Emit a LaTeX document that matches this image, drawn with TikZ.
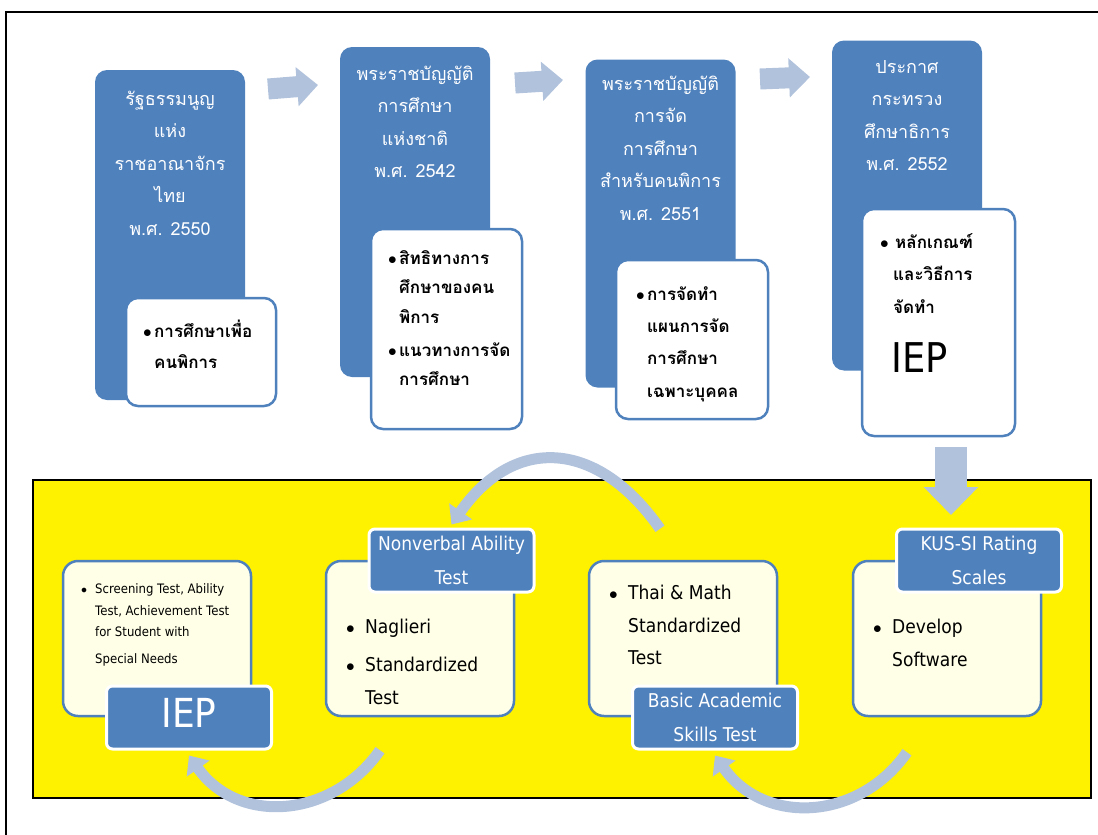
\documentclass[tikz,border=0pt]{standalone}
\usepackage{fontspec}
\setmainfont{DejaVu Sans}[FakeStretch=0.9]
\newfontfamily\thaifont[Script=Thai]{Loma}
\usetikzlibrary{positioning,arrows.meta}

\definecolor{lawblue}{HTML}{4F81BD}
\definecolor{arrowblue}{HTML}{B0C2DC}
\definecolor{cardyellow}{HTML}{FFFFE8}

\newcommand{\itm}[1]{\makebox[#1][l]{$\bullet$}}
\newcommand{\hang}[1]{\hspace*{#1}}
\newcommand{\topstrut}{\rule{0pt}{20pt}}

\begin{document}
\begin{tikzpicture}[x=1pt,y=-1pt,
    law/.style={fill=lawblue,rounded corners=12pt,minimum width=150pt,inner sep=0pt},
    lawtext/.style={anchor=north,inner sep=0pt,align=center,text=white,font=\thaifont\fontsize{18}{32.5}\selectfont},
    note/.style={draw=lawblue,line width=2.5pt,fill=white,rounded corners=12pt,inner sep=0pt},
    notetext/.style={anchor=north west,inner sep=0pt,align=left,font=\thaifont\bfseries\fontsize{17}{31}\selectfont},
    card/.style={draw=lawblue,line width=2.5pt,fill=cardyellow,rounded corners=15pt,minimum width=188pt,minimum height=155pt,inner sep=0pt},
    cardtext/.style={anchor=north west,inner sep=0pt,align=left,font=\fontsize{19}{33}\selectfont},
    tag/.style={draw=white,line width=3pt,fill=lawblue,rounded corners=6pt,minimum width=165pt,minimum height=63pt,inner sep=0pt,align=center,text=white,font=\fontsize{19}{34}\selectfont},
    stagearrow/.style={arrowblue,line width=21pt,-{Triangle[width=38pt,length=21pt]}},
    looparrow/.style={arrowblue,line width=11pt,-{Triangle[width=27pt,length=16pt]}},
  ]
  \useasboundingbox (0,0) rectangle (1098,835);
  \draw[line width=1.2pt] (6,835) -- (6,12) -- (1098,12);

  %laws
  \node[law,minimum height=330pt] (b1) at (170,235) {};
  \node[law,minimum height=330pt] (b2) at (415,212) {};
  \node[law,minimum height=328pt] (b3) at (660.5,223.5) {};
  \node[law,minimum height=330pt] (b4) at (907,205.5) {};
  \node[lawtext] (t1) at (170,85) {\topstrut รัฐธรรมนูญ\\แห่ง\\ราชอาณาจักร\\ไทย\\พ.ศ. 2550};
  \node[lawtext] (t2) at (415,60) {\topstrut พระราชบัญญัติ\\การศึกษา\\แห่งชาติ\\พ.ศ. 2542};
  \node[lawtext] (t3) at (660.5,70) {\topstrut พระราชบัญญัติ\\การจัด\\การศึกษา\\สำหรับคนพิการ\\พ.ศ. 2551};
  \node[lawtext] (t4) at (907,53) {\topstrut ประกาศ\\กระทรวง\\ศึกษาธิการ\\พ.ศ. 2552};

  %notes
  \node[note,minimum width=150pt,minimum height=108pt] (n1) at (201,352) {};
  \node[note,minimum width=151pt,minimum height=200pt] (n2) at (446.5,329) {};
  \node[note,minimum width=152pt,minimum height=159pt] (n3) at (692,339.5) {};
  \node[note,minimum width=153pt,minimum height=227pt] (n4) at (938.5,322.5) {};
  \node[notetext] at (143,317) {\topstrut\itm{11pt}การศึกษาเพื่อ\\\hang{11pt}คนพิการ};
  \node[notetext,font=\thaifont\bfseries\fontsize{17}{29.5}\selectfont] at (388,244)
    {\topstrut\itm{11pt}สิทธิทางการ\\\hang{11pt}ศึกษาของคน\\\hang{11pt}พิการ\\[3.5pt]\itm{11pt}แนวทางการจัด\\\hang{11pt}การศึกษา};
  \node[notetext,font=\thaifont\bfseries\fontsize{17}{32.3}\selectfont] at (636,280)
    {\topstrut\itm{11pt}การจัดทำ\\\hang{11pt}แผนการจัด\\\hang{11pt}การศึกษา\\\hang{11pt}เฉพาะบุคคล};
  \node[notetext,font=\thaifont\bfseries\fontsize{17}{32.5}\selectfont] at (880,228)
    {\topstrut\itm{15pt}หลักเกณฑ์\\\hang{13pt}และวิธีการ\\\hang{13pt}จัดทำ};
  \node[anchor=west,inner sep=0pt,font=\fontsize{41}{41}\selectfont] (iep1) at (891,358) {IEP};

  %steps
  \coordinate (s1a) at (268,89);  \coordinate (s1b) at (318,85);
  \coordinate (s2a) at (515,83);  \coordinate (s2b) at (563,80);
  \coordinate (s3a) at (760,79);  \coordinate (s3b) at (810,77);
  \draw[stagearrow] (s1a) -- (s1b);
  \draw[stagearrow] (s2a) -- (s2b);
  \draw[stagearrow] (s3a) -- (s3b);

  %cycle
  \node[draw=black,line width=1.5pt,fill=yellow,minimum width=1058pt,minimum height=318pt,inner sep=0pt] (cyclebox) at (562,639) {};
  \coordinate (da) at (951,447); \coordinate (db) at (951,515);
  \draw[arrowblue,line width=32pt,-{Triangle[width=53pt,length=28pt]}] (da) -- (db);

  \node[card] (c1) at (157,638.5) {};
  \node[card] (c2) at (420,638.5) {};
  \node[card] (c3) at (683,638.5) {};
  \node[card] (c4) at (947,638.5) {};
  \node[cardtext,font=\fontsize{13}{21.5}\selectfont] at (81,573.5)
    {\topstrut\itm{14pt}Screening Test, Ability\\\hang{14pt}Test, Achievement Test\\\hang{14pt}for Student with\\[5pt]\hang{14pt}Special Needs};
  \node[cardtext] at (346,613.6) {\topstrut\itm{19pt}Naglieri\\[5pt]\itm{19pt}Standardized\\\hang{19pt}Test};
  \node[cardtext,font=\fontsize{19}{32.5}\selectfont] at (609,579.6) {\topstrut\itm{19pt}Thai \& Math\\\hang{19pt}Standardized\\\hang{19pt}Test};
  \node[cardtext] at (873,613.6) {\topstrut\itm{19pt}Develop\\\hang{19pt}Software};

  \node[tag] (nonverbal) at (451.5,560.5) {Nonverbal Ability\\Test};
  \node[tag] (kussi) at (979,560.5) {KUS-SI Rating\\Scales};
  \node[tag] (basic) at (715,717.5) {Basic Academic\\Skills Test};
  \node[tag] (iep) at (189,717.5) {};
  \node[text=white,inner sep=0pt,font=\fontsize{40}{40}\selectfont] at ([yshift=5pt]iep.center) {IEP};

  \draw[looparrow] ([shift={(-23,-31)}]c3.north) to[out=125,in=55,looseness=1.34] ([yshift=3pt]nonverbal.north);
  \draw[looparrow] ([shift={(-40,33)}]c2.south) to[out=-125,in=-55,looseness=1.13] ([yshift=-5pt]iep.south);
  \draw[looparrow] ([shift={(-40,35)}]c4.south) to[out=-125,in=-55,looseness=1.13] ([yshift=-5pt]basic.south);
\end{tikzpicture}
\end{document}
